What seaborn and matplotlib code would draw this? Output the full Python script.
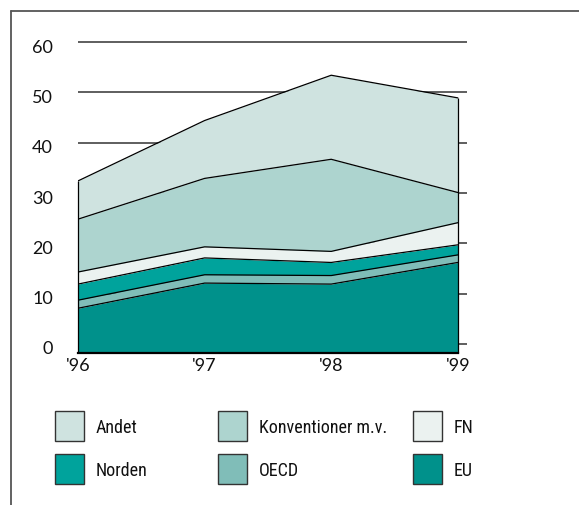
import numpy as np
import matplotlib
matplotlib.use("Agg")
import matplotlib.pyplot as plt
import matplotlib.transforms as mtransforms
from matplotlib.patches import Rectangle
from matplotlib.lines import Line2D
from matplotlib import font_manager
import seaborn as sns

# data (mia. kr.), stacked bottom -> top
years = [1996, 1997, 1998, 1999]
year_labels = ["'96", "'97", "'98", "'99"]
eu = [7.1, 12.1, 11.9, 16.2]
oecd = [1.6, 1.65, 1.7, 1.5]
norden = [3.2, 3.35, 2.6, 2.0]
fn = [2.4, 2.2, 2.2, 4.4]
konv = [10.5, 13.6, 18.3, 6.0]
andet = [7.6, 11.5, 16.7, 18.8]
names = ["EU", "OECD", "Norden", "FN", "Konventioner m.v.", "Andet"]
colors = ["#00918b", "#80bdb8", "#00a39c", "#ebf2f0", "#add4cf", "#cfe3e0"]
yticks = [0, 10, 20, 30, 40, 50, 60]

sns.set_theme(style="white")
have = {f.name for f in font_manager.fontManager.ttflist}
leg_font, leg_size = "Roboto", 12.3
for cand in ["Liberation Sans Narrow", "Roboto Condensed", "Arial Narrow"]:
    if cand in have:
        leg_font, leg_size = cand, 13
        break
plt.rcParams["font.family"] = ["Lato", "DejaVu Sans"]

W, H = 579, 506
fig = plt.figure(figsize=(W / 100, H / 100), dpi=100)
top_px, bot_px = 40.5, 354.3
ax = fig.add_axes([78 / W, 1 - bot_px / H, (466.7 - 78) / W, (bot_px - top_px) / H])
ax.set_xlim(1996, 1999.07)
ax.set_ylim(-1.85, 60.5)
ybot = ax.get_ylim()[0]

# stacked areas, first layer reaches down to the axis line
layers = np.cumsum(np.array([eu, oecd, norden, fn, konv, andet]), axis=0)
lower = np.full(len(years), ybot)
for top, c in zip(layers, colors):
    ax.fill_between(years, lower, top, color=c, lw=0, zorder=2)
    sns.lineplot(x=years, y=top, color="black", lw=0.9, zorder=4, ax=ax)
    lower = top
ax.vlines([years[0], years[-1]], ybot, layers[-1][[0, -1]], color="black", lw=0.9,
          zorder=4, clip_on=False)

ax.set_yticks(yticks)
ax.set_yticklabels([str(v) for v in yticks])
ax.set_xticks(years)
ax.set_xticklabels(year_labels)
ax.set_xlabel("")
ax.set_ylabel("")
ax.grid(False)
for v in yticks:
    ax.axhline(v, color="#333333", lw=1.1, zorder=1)

for s in ["left", "right", "top"]:
    ax.spines[s].set_visible(False)
ax.spines["bottom"].set_bounds(years[0], years[-1])
ax.spines["bottom"].set_linewidth(1.6)
ax.spines["bottom"].set_color("black")
ax.spines["bottom"].set_zorder(5)

ax.tick_params(axis="y", length=0, pad=18, labelsize=13, colors="#111111")
ax.tick_params(axis="x", length=0, pad=3, labelsize=13, colors="#111111")
off = mtransforms.ScaledTranslation(0, -3 / 100, fig.dpi_scale_trans)
for lab in ax.get_yticklabels():
    lab.set_transform(lab.get_transform() + off)

# frame lines of the figure panel
fig.add_artist(Line2D([11 / W, 1], [1 - 11.7 / H] * 2, color="#555555", lw=1.3))
fig.add_artist(Line2D([11 / W] * 2, [0, 1 - 11.7 / H], color="#555555", lw=1.3))

# legend: 3 columns x 2 rows of boxes
leg_rows = [["Andet", "Konventioner m.v.", "FN"], ["Norden", "OECD", "EU"]]
col_x = [55, 218, 413]
row_y = [412, 455]
cmap = dict(zip(names, colors))
for r, row in enumerate(leg_rows):
    for c, lab in enumerate(row):
        x0, y0 = col_x[c], row_y[r]
        fig.add_artist(Rectangle((x0 / W, 1 - (y0 + 30) / H), 29 / W, 30 / H,
                                 facecolor=cmap[lab], edgecolor="#333333", lw=1.0,
                                 transform=fig.transFigure))
        fig.text((x0 + 41) / W, 1 - (y0 + 16) / H, lab, ha="left", va="center",
                 family=leg_font, fontsize=leg_size, color="#111111")

fig.savefig("out.png", dpi=100)
